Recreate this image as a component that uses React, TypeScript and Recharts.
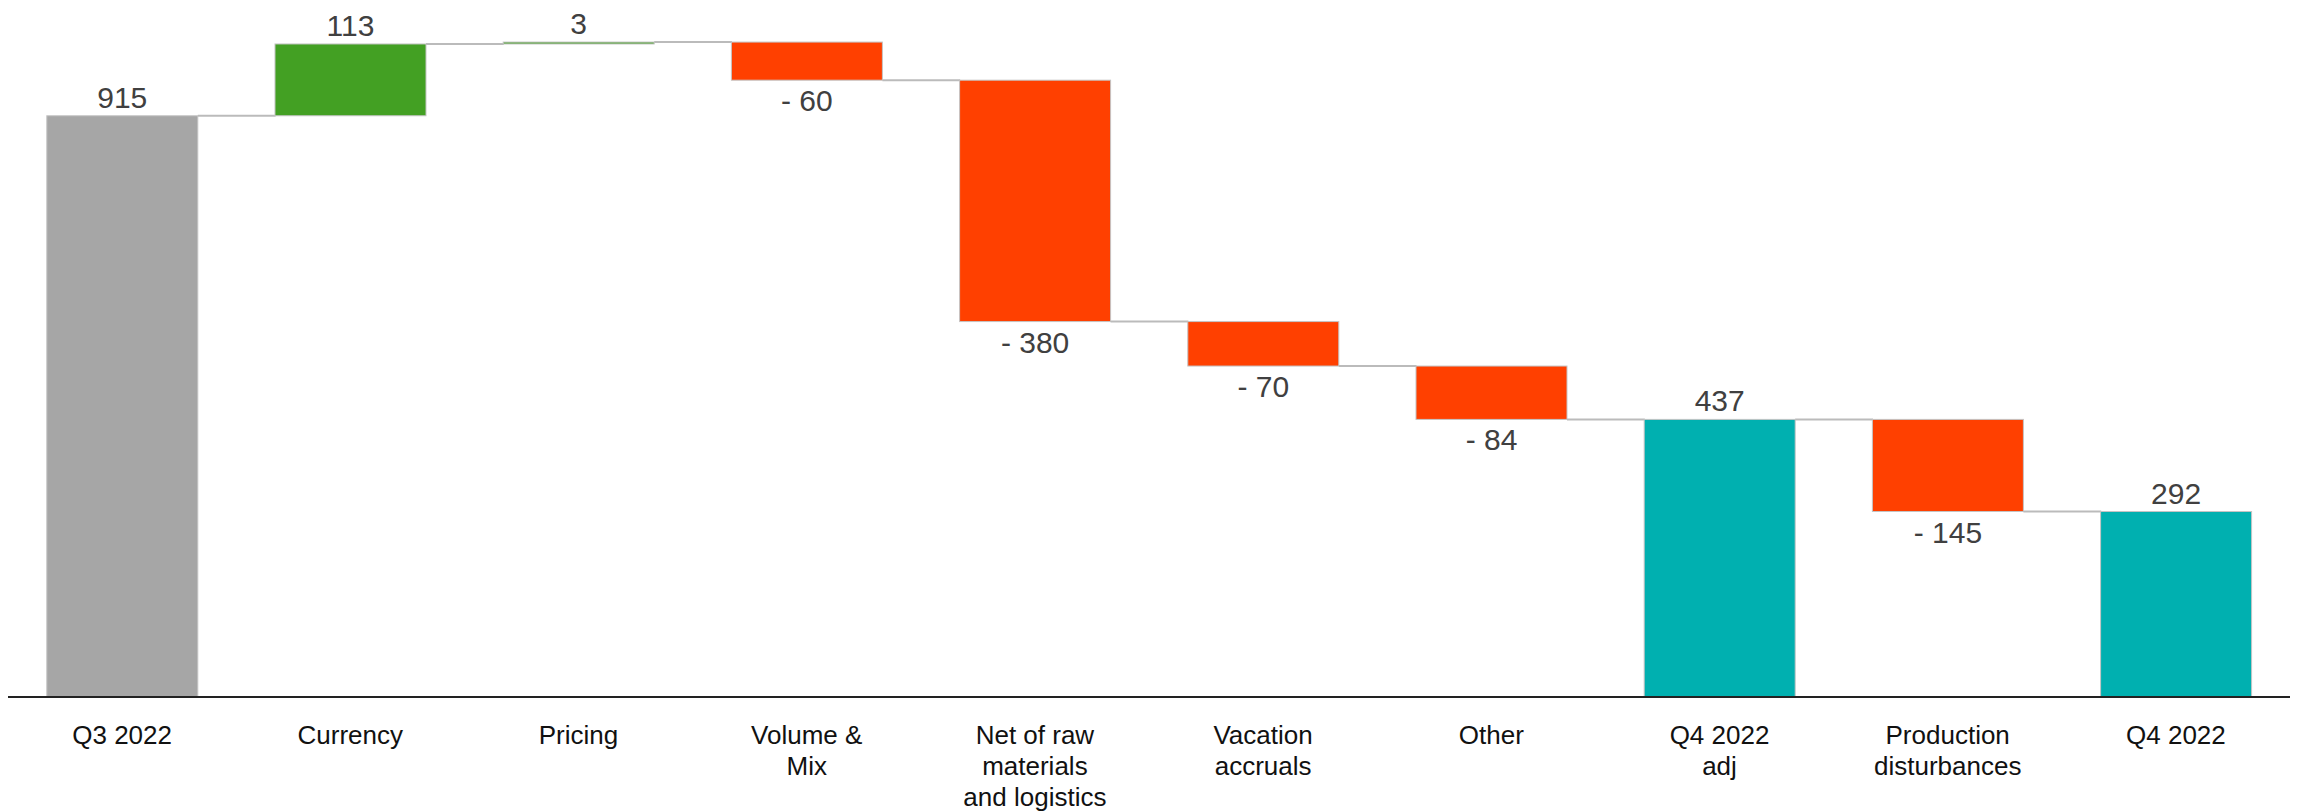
import React from "react";
import { BarChart, Bar, XAxis, YAxis } from "recharts";

const categories = [
  "Q3 2022",
  "Currency",
  "Pricing",
  "Volume &\nMix",
  "Net of raw\nmaterials\nand logistics",
  "Vacation\naccruals",
  "Other",
  "Q4 2022\nadj",
  "Production\ndisturbances",
  "Q4 2022",
];
const values = [915, 113, 3, -60, -380, -70, -84, 437, -145, 292];
const kinds = ["total", "delta", "delta", "delta", "delta", "delta", "delta", "total", "delta", "total"];
const barColors = ["#A6A6A6", "#43A023", "#43A023", "#FF4000", "#FF4000", "#FF4000", "#FF4000", "#00B0B0", "#FF4000", "#00B0B0"];

type Row = { name: string; base: number; h: number; v: number; kind: string; color: string };

let running = 0;
const data: Row[] = categories.map((name, i) => {
  const v = values[i];
  let base = 0;
  let h = 0;
  if (kinds[i] === "total") {
    base = 0;
    h = v;
    running = v;
  } else {
    base = v >= 0 ? running : running + v;
    h = Math.abs(v);
    running += v;
  }
  return { name, base, h, v, kind: kinds[i], color: barColors[i] };
});

const GAP = 0.17;
const FONT = "'Liberation Sans Narrow', 'Arial Narrow', 'Liberation Sans', Arial, sans-serif";

const ValueShape = (props: any) => {
  const { x, y, width, height, index } = props;
  const d = data[index];
  const isNegDelta = d.kind === "delta" && d.v < 0;
  const lineY = isNegDelta ? y + height : y;
  const gapLen = (width * 2 * GAP) / (1 - 2 * GAP);
  const label = isNegDelta ? `- ${Math.abs(d.v)}` : String(d.v);
  const labelY = isNegDelta ? y + height + 31 : y - 8;
  return (
    <g>
      <rect x={x} y={y} width={width} height={Math.max(height, 0)} fill={d.color} stroke="#C4C4C4" strokeWidth={1} />
      {index < data.length - 1 && (
        <line x1={x + width} x2={x + width + gapLen} y1={lineY} y2={lineY} stroke="#BBBBBB" strokeWidth={2} />
      )}
      <text x={x + width / 2} y={labelY} textAnchor="middle" fontSize={30} fill="#404040" fontFamily={FONT}>
        {label}
      </text>
    </g>
  );
};

const Tick = (props: any) => {
  const { x, y, payload } = props;
  const lines = String(payload.value).split("\n");
  return (
    <text x={x} y={y} textAnchor="middle" fontSize={26} fill="#111" fontFamily={FONT}>
      {lines.map((l, i) => (
        <tspan key={i} x={x} y={y + 47 + i * 31}>
          {l}
        </tspan>
      ))}
    </text>
  );
};

export default function App() {
  return (
    <div style={{ width: 2282, height: 804, background: "#fff" }}>
      <BarChart
        width={2282}
        height={804}
        data={data}
        margin={{ top: 22, right: 0, bottom: 0, left: 0 }}
        barCategoryGap={`${GAP * 100}%`}
      >
        <XAxis
          dataKey="name"
          interval={0}
          tickLine={false}
          tickSize={0}
          tickMargin={0}
          height={115}
          axisLine={{ stroke: "#222", strokeWidth: 2 }}
          tick={<Tick />}
        />
        <YAxis hide domain={[0, 1050]} />
        <Bar dataKey="base" stackId="a" fill="transparent" isAnimationActive={false} />
        <Bar dataKey="h" stackId="a" isAnimationActive={false} shape={<ValueShape />} />
      </BarChart>
    </div>
  );
}
